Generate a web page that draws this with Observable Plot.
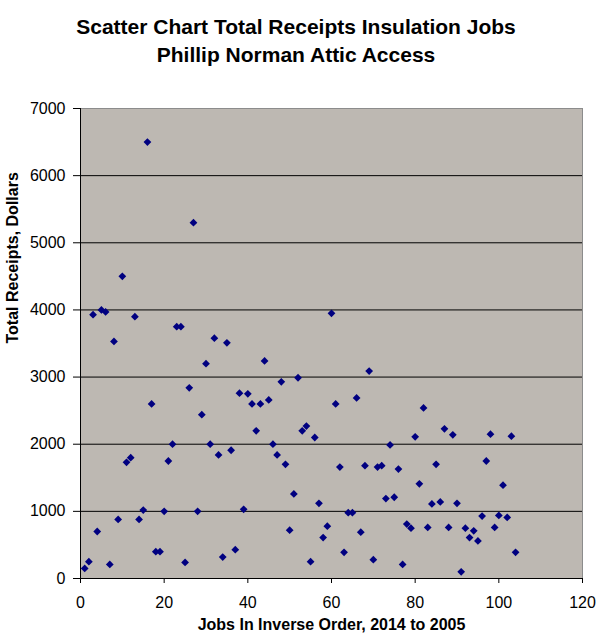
<!DOCTYPE html>
<html>
<head>
<meta charset="utf-8">
<script src="https://cdn.jsdelivr.net/npm/d3@7"></script>
<script src="https://cdn.jsdelivr.net/npm/@observablehq/plot@0.6"></script>
<style>
  html, body { margin: 0; padding: 0; background: #ffffff; }
  #title {
    width: 592px; height: 75px; box-sizing: border-box; padding-top: 13px;
    text-align: center; font-family: "Liberation Sans", Arial, sans-serif;
    font-weight: bold; font-size: 21px; line-height: 28px; color: #000;
  }
  #chart svg { display: block; }
</style>
</head>
<body>
<div id="title">Scatter Chart Total Receipts Insulation Jobs<br>Phillip Norman Attic Access</div>
<div id="chart"></div>
<script>
const jobs = [
  1, 2, 3, 4, 5, 6, 7, 8, 9, 10, 11, 12, 13, 14, 15, 16, 17, 18, 19, 20,
  21, 22, 23, 24, 25, 26, 27, 28, 29, 30, 31, 32, 33, 34, 35, 36, 37, 38, 39, 40,
  41, 42, 43, 44, 45, 46, 47, 48, 49, 50, 51, 52, 53, 54, 55, 56, 57, 58, 59, 60,
  61, 62, 63, 64, 65, 66, 67, 68, 69, 70, 71, 72, 73, 74, 75, 76, 77, 78, 79, 80,
  81, 82, 83, 84, 85, 86, 87, 88, 89, 90, 91, 92, 93, 94, 95, 96, 97, 98, 99, 100,
  101, 102, 103, 104
];
const receipts = [
  150, 250, 3930, 700, 4000, 3970, 210, 3530, 880, 4500,
  1730, 1800, 3900, 880, 1020, 6500, 2600, 400, 400, 1000,
  1750, 2000, 3750, 3750, 240, 2840, 5300, 1000, 2440, 3200,
  2000, 3580, 1840, 320, 3510, 1910, 430, 2760, 1030, 2750,
  2600, 2200, 2600, 3240, 2660, 2000, 1840, 2930, 1700, 720,
  1260, 2990, 2200, 2270, 250, 2100, 1120, 610, 780, 3950,
  2600, 1660, 390, 980, 980, 2690, 690, 1680, 3090, 280,
  1660, 1680, 1190, 1990, 1210, 1630, 210, 810, 750, 2110,
  1410, 2540, 760, 1110, 1700, 1140, 2230, 760, 2140, 1120,
  100, 750, 610, 710, 560, 930, 1750, 2150, 760, 940,
  1390, 910, 2120, 390
];
const xTicks = [0, 20, 40, 60, 80, 100, 120];
const yTicks = [0, 1000, 2000, 3000, 4000, 5000, 6000, 7000];
const xTitle = "Jobs In Inverse Order, 2014 to 2005";
const yTitle = "Total Receipts, Dollars";

const data = jobs.map((j, i) => ({job: j, receipts: receipts[i]}));

const chart = Plot.plot({
  width: 597,
  height: 563,
  marginTop: 33,
  marginBottom: 60,
  marginLeft: 80,
  marginRight: 15,
  style: {fontFamily: "'Liberation Sans', Arial, sans-serif", fontSize: "16px", color: "#000", background: "transparent"},
  x: {domain: [0, 120], ticks: xTicks, label: null},
  y: {domain: [0, 7000], ticks: yTicks, label: null},
  marks: [
    Plot.frame({fill: "#bdb8b2", stroke: null}),
    Plot.ruleY(yTicks.filter(d => d > 0), {stroke: "#000", strokeWidth: 1}),
    Plot.frame({stroke: "#8c8c8c", strokeWidth: 1}),
    Plot.ruleX([0], {stroke: "#000", strokeWidth: 1}),
    Plot.ruleY([0], {stroke: "#000", strokeWidth: 1}),
    Plot.axisY({ticks: yTicks, tickSize: 7, tickPadding: 8, fontSize: 16, label: null, tickFormat: d => String(d)}),
    Plot.axisX({ticks: xTicks, tickSize: 5, tickPadding: 13, fontSize: 16, label: null, tickFormat: d => String(d)}),
    Plot.dot(data, {x: "job", y: "receipts", symbol: "diamond2", r: 3.5, fill: "#000080", stroke: null}),
    Plot.text([yTitle], {frameAnchor: "left", dx: -68, rotate: -90, fontWeight: "bold", fontSize: 16, fill: "#000"}),
    Plot.text([xTitle], {frameAnchor: "bottom", dy: 51, fontWeight: "bold", fontSize: 16, fill: "#000"})
  ]
});
document.getElementById("chart").appendChild(chart);
</script>
</body>
</html>
